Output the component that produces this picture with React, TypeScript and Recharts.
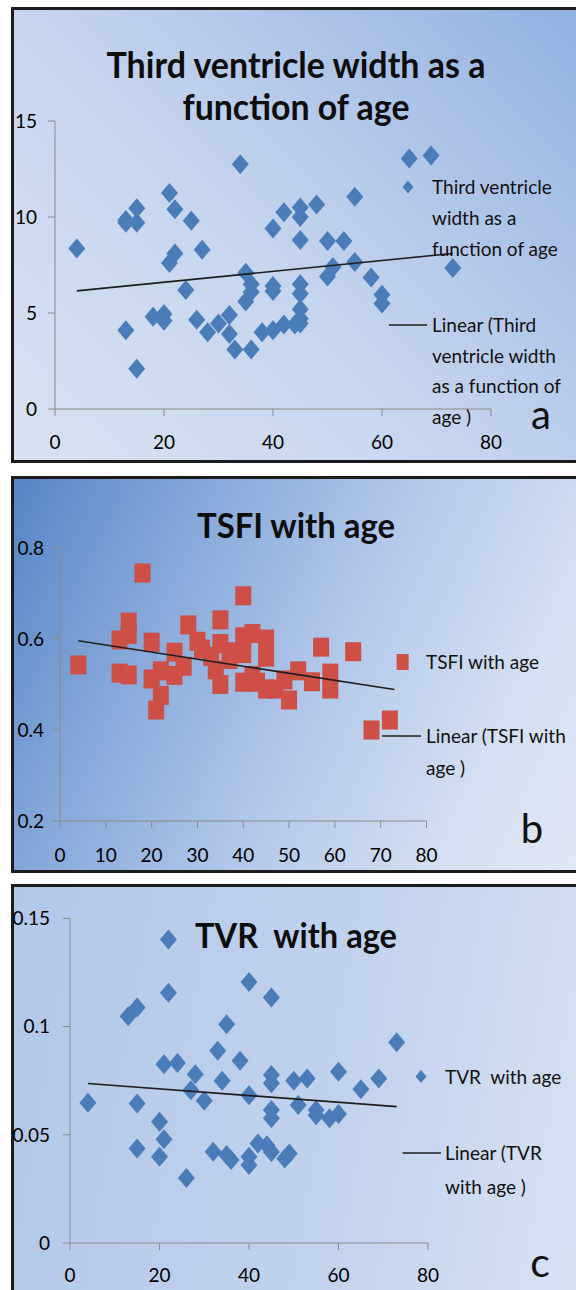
import React from 'react';
import { ScatterChart, Scatter, XAxis, YAxis } from 'recharts';

// ---------- Panel a: Third ventricle width vs age ----------
const agesA = [4, 13, 13, 13, 15, 15, 15, 18, 20, 20, 21, 21, 22, 22, 24, 25, 26, 27, 28, 30, 32, 32, 33, 34, 35, 35, 36, 36, 36, 38, 40, 40, 40, 40, 42, 42, 44, 45, 45, 45, 45, 45, 45, 45, 45, 48, 50, 50, 51, 53, 55, 55, 58, 60, 60, 65, 69, 73];
const widthsA = [8.36, 9.7, 9.85, 4.1, 10.45, 9.7, 2.1, 4.8, 4.95, 4.6, 11.25, 7.6, 10.4, 8.1, 6.2, 9.8, 4.65, 8.3, 4.0, 4.45, 4.9, 3.9, 3.1, 12.75, 7.1, 5.6, 6.5, 6.1, 3.1, 4.0, 9.4, 6.4, 6.15, 4.1, 10.25, 4.4, 4.4, 10.5, 10.0, 8.8, 6.5, 6.0, 5.2, 4.7, 4.45, 10.65, 8.75, 6.9, 7.4, 8.75, 11.05, 7.65, 6.85, 5.95, 5.5, 13.05, 13.2, 7.35];
const trendAgesA = [4, 73];
const trendValuesA = [6.15, 8.1];
const xTicksA = [0, 20, 40, 60, 80];
const yTicksA = [0, 5, 10, 15];
const titleA = ['Third ventricle width as a', 'function of age'];
const nameA = 'Third ventricle width as a function of age';
const trendNameA = 'Linear (Third ventricle width as a function of age )';
const legendLinesA = ['Third ventricle', 'width as a', 'function of age'];
const trendLegendLinesA = ['Linear (Third', 'ventricle width', 'as a function of', 'age )'];

// ---------- Panel b: TSFI vs age ----------
const agesB = [4, 13, 13, 15, 15, 15, 18, 20, 20, 21, 22, 22, 25, 25, 27, 28, 30, 31, 33, 34, 35, 35, 35, 37, 38, 40, 40, 40, 40, 42, 42, 43, 45, 45, 45, 47, 49, 50, 52, 55, 57, 59, 59, 64, 68, 72];
const tsfiB = [0.543, 0.598, 0.525, 0.637, 0.61, 0.521, 0.745, 0.593, 0.512, 0.444, 0.476, 0.53, 0.571, 0.52, 0.54, 0.631, 0.595, 0.578, 0.562, 0.532, 0.642, 0.59, 0.5, 0.555, 0.572, 0.695, 0.605, 0.568, 0.505, 0.612, 0.52, 0.505, 0.6, 0.56, 0.49, 0.49, 0.51, 0.466, 0.53, 0.506, 0.582, 0.525, 0.49, 0.572, 0.4, 0.422];
const trendAgesB = [4, 73];
const trendValuesB = [0.596, 0.489];
const xTicksB = [0, 10, 20, 30, 40, 50, 60, 70, 80];
const yTicksB = [0.2, 0.4, 0.6, 0.8];
const titleB = 'TSFI with age';
const nameB = 'TSFI with age';
const trendNameB = 'Linear (TSFI with age )';
const legendLinesB = ['TSFI with age'];
const trendLegendLinesB = ['Linear (TSFI with', 'age )'];

// ---------- Panel c: TVR vs age ----------
const agesC = [4, 13, 15, 15, 15, 20, 20, 21, 21, 22, 22, 24, 26, 28, 27, 30, 32, 33, 34, 35, 35, 36, 38, 40, 40, 40, 40, 42, 44, 45, 45, 45, 45, 45, 45, 48, 50, 49, 51, 53, 55, 55, 58, 60, 60, 65, 69, 73];
const tvrC = [0.0648, 0.1048, 0.1088, 0.0645, 0.0437, 0.056, 0.0398, 0.0826, 0.0479, 0.1402, 0.1156, 0.0832, 0.03, 0.078, 0.0706, 0.0657, 0.0422, 0.0888, 0.0749, 0.101, 0.0406, 0.0383, 0.0842, 0.1206, 0.0683, 0.0398, 0.036, 0.046, 0.0452, 0.1134, 0.0776, 0.0738, 0.0614, 0.0576, 0.042, 0.039, 0.0749, 0.0414, 0.0637, 0.076, 0.0614, 0.059, 0.0576, 0.0596, 0.0791, 0.071, 0.076, 0.0927];
const trendAgesC = [4, 73];
const trendValuesC = [0.0737, 0.063];
const xTicksC = [0, 20, 40, 60, 80];
const yTicksC = [0, 0.05, 0.1, 0.15];
const titleC = 'TVR  with age';
const nameC = 'TVR  with age';
const trendNameC = 'Linear (TVR  with age )';
const legendLinesC = ['TVR  with age'];
const trendLegendLinesC = ['Linear (TVR', 'with age )'];

const panelLetters = ['a', 'b', 'c'];

// ---------- helpers ----------
const zip = (xs: number[], ys: number[]) => xs.map((x, i) => ({ x, y: ys[i] }));
const dataA = zip(agesA, widthsA);
const lineA = zip(trendAgesA, trendValuesA);
const dataB = zip(agesB, tsfiB);
const lineB = zip(trendAgesB, trendValuesB);
const dataC = zip(agesC, tvrC);
const lineC = zip(trendAgesC, trendValuesC);

const FONT = "Lato, 'Open Sans', sans-serif";
const BLUE = '#4a7cba';
const RED = '#cd4f46';
const TREND = '#1e1e1e';
const AXIS = '#8a8a8a';
const TICK = { fill: '#000', fontSize: 19, fontFamily: FONT };

const Diamond = (props: any) => {
  const { cx, cy } = props;
  if (cx == null || cy == null) return <g />;
  return (
    <polygon
      points={`${cx},${cy - 10} ${cx + 8.5},${cy} ${cx},${cy + 10} ${cx - 8.5},${cy}`}
      fill={BLUE}
    />
  );
};

const Square = (props: any) => {
  const { cx, cy } = props;
  if (cx == null || cy == null) return <g />;
  return <rect x={cx - 8} y={cy - 9.5} width={16} height={19} fill={RED} />;
};

const NoMark = () => <g />;

const panelBox = (top: number, height: number, background: string): React.CSSProperties => ({
  position: 'absolute',
  left: 11,
  top,
  width: 640,
  height,
  border: '3px solid #1c1c1c',
  boxSizing: 'border-box',
  background,
});

const BG_A = 'linear-gradient(225deg, #8aaddf 0%, #a9c1e7 28%, #c6d5ee 58%, #d8e2f1 100%)';
const BG_B = 'linear-gradient(115deg, #5585c5 0%, #82a5d8 22%, #b3c9ea 50%, #d5e0f2 75%, #e6ecf6 100%)';
const BG_C = 'linear-gradient(100deg, #b2c7e8 0%, #c1d2ed 50%, #dde6f4 100%)';

const LegendText = ({ x, y0, step, lines }: { x: number; y0: number; step: number; lines: string[] }) => (
  <g>
    {lines.map((t, i) => (
      <text key={i} x={x} y={y0 + i * step} fontSize={19} fontFamily={FONT} fill="#111" style={{ whiteSpace: 'pre' }}>
        {t}
      </text>
    ))}
  </g>
);

export default function App() {
  return (
    <div style={{ position: 'absolute', left: 0, top: 0, width: 576, height: 1290, overflow: 'hidden', background: '#fff' }}>
      <div style={panelBox(7, 456, BG_A)} />
      <div style={panelBox(476, 397, BG_B)} />
      <div style={panelBox(884, 460, BG_C)} />

      {/* Panel a */}
      <div style={{ position: 'absolute', left: 0, top: 0 }}>
        <ScatterChart width={576} height={462} margin={{ top: 121, right: 85, bottom: 23, left: 15 }}>
          <XAxis type="number" dataKey="x" domain={[0, 80]} ticks={xTicksA} interval={0} stroke={AXIS} tickSize={7} tickMargin={20} tick={TICK} height={30} />
          <YAxis type="number" dataKey="y" domain={[0, 15]} ticks={yTicksA} interval={0} stroke={AXIS} tickSize={7} tickMargin={11} tick={TICK} width={40} />
          <Scatter name={nameA} data={dataA} shape={Diamond} isAnimationActive={false} />
          <Scatter name={trendNameA} data={lineA} shape={NoMark} line={{ stroke: TREND, strokeWidth: 1.6 }} legendType="line" isAnimationActive={false} />
        </ScatterChart>
      </div>

      {/* Panel b */}
      <div style={{ position: 'absolute', left: 0, top: 470 }}>
        <ScatterChart width={576} height={402} margin={{ top: 78, right: 149.5, bottom: 21, left: 20 }}>
          <XAxis type="number" dataKey="x" domain={[0, 80]} ticks={xTicksB} interval={0} stroke={AXIS} tickSize={7} tickMargin={21} tick={TICK} height={30} />
          <YAxis type="number" dataKey="y" domain={[0.2, 0.8]} ticks={yTicksB} interval={0} stroke={AXIS} tickSize={7} tickMargin={9} tick={TICK} width={40} />
          <Scatter name={nameB} data={dataB} shape={Square} isAnimationActive={false} />
          <Scatter name={trendNameB} data={lineB} shape={NoMark} line={{ stroke: TREND, strokeWidth: 1.6 }} legendType="line" isAnimationActive={false} />
        </ScatterChart>
      </div>

      {/* Panel c */}
      <div style={{ position: 'absolute', left: 0, top: 878 }}>
        <ScatterChart width={576} height={412} margin={{ top: 40.3, right: 148, bottom: 17, left: 20 }}>
          <XAxis type="number" dataKey="x" domain={[0, 80]} ticks={xTicksC} interval={0} stroke={AXIS} tickSize={7} tickMargin={18.5} tick={TICK} height={30} />
          <YAxis type="number" dataKey="y" domain={[0, 0.15]} ticks={yTicksC} interval={0} stroke={AXIS} tickSize={7} tickMargin={13} tick={TICK} width={50} />
          <Scatter name={nameC} data={dataC} shape={Diamond} isAnimationActive={false} />
          <Scatter name={trendNameC} data={lineC} shape={NoMark} line={{ stroke: TREND, strokeWidth: 1.6 }} legendType="line" isAnimationActive={false} />
        </ScatterChart>
      </div>

      {/* Titles, legends and panel letters */}
      <svg width={576} height={1290} style={{ position: 'absolute', left: 0, top: 0, pointerEvents: 'none' }}>
        {/* a */}
        <text x={296} y={78} textAnchor="middle" fontSize={36} fontWeight={700} fontFamily={FONT} fill="#0d0d0d" textLength={379} lengthAdjust="spacingAndGlyphs">{titleA[0]}</text>
        <text x={296} y={120} textAnchor="middle" fontSize={36} fontWeight={700} fontFamily={FONT} fill="#0d0d0d" textLength={227} lengthAdjust="spacingAndGlyphs">{titleA[1]}</text>
        <polygon points="408,180.5 413.5,187 408,193.5 402.5,187" fill={BLUE} />
        <LegendText x={432} y0={194} step={31} lines={legendLinesA} />
        <line x1={389} y1={325} x2={427} y2={325} stroke={TREND} strokeWidth={1.6} />
        <LegendText x={432} y0={332} step={30.5} lines={trendLegendLinesA} />
        <text x={541} y={429} textAnchor="middle" fontSize={40} fontFamily={FONT} fill="#111">{panelLetters[0]}</text>

        {/* b */}
        <text x={296} y={538} textAnchor="middle" fontSize={34} fontWeight={700} fontFamily={FONT} fill="#0d0d0d" textLength={198} lengthAdjust="spacingAndGlyphs">{titleB}</text>
        <rect x={396.6} y={654} width={12} height={16} fill={RED} />
        <LegendText x={426} y0={669} step={32} lines={legendLinesB} />
        <line x1={382} y1={736} x2={421} y2={736} stroke={TREND} strokeWidth={1.6} />
        <LegendText x={426} y0={743} step={32} lines={trendLegendLinesB} />
        <text x={532} y={843} textAnchor="middle" fontSize={40} fontFamily={FONT} fill="#111">{panelLetters[1]}</text>

        {/* c */}
        <text x={296} y={948} textAnchor="middle" fontSize={34} fontWeight={700} fontFamily={FONT} fill="#0d0d0d" textLength={202} lengthAdjust="spacingAndGlyphs" style={{ whiteSpace: 'pre' }}>{titleC}</text>
        <polygon points="421,1070 426.5,1076.5 421,1083 415.5,1076.5" fill={BLUE} />
        <LegendText x={445} y0={1084} step={33} lines={legendLinesC} />
        <line x1={402.6} y1={1153} x2={441} y2={1153} stroke={TREND} strokeWidth={1.6} />
        <LegendText x={445} y0={1160} step={33.7} lines={trendLegendLinesC} />
        <text x={540} y={1277} textAnchor="middle" fontSize={41} fontFamily={FONT} fill="#111">{panelLetters[2]}</text>
      </svg>
    </div>
  );
}
